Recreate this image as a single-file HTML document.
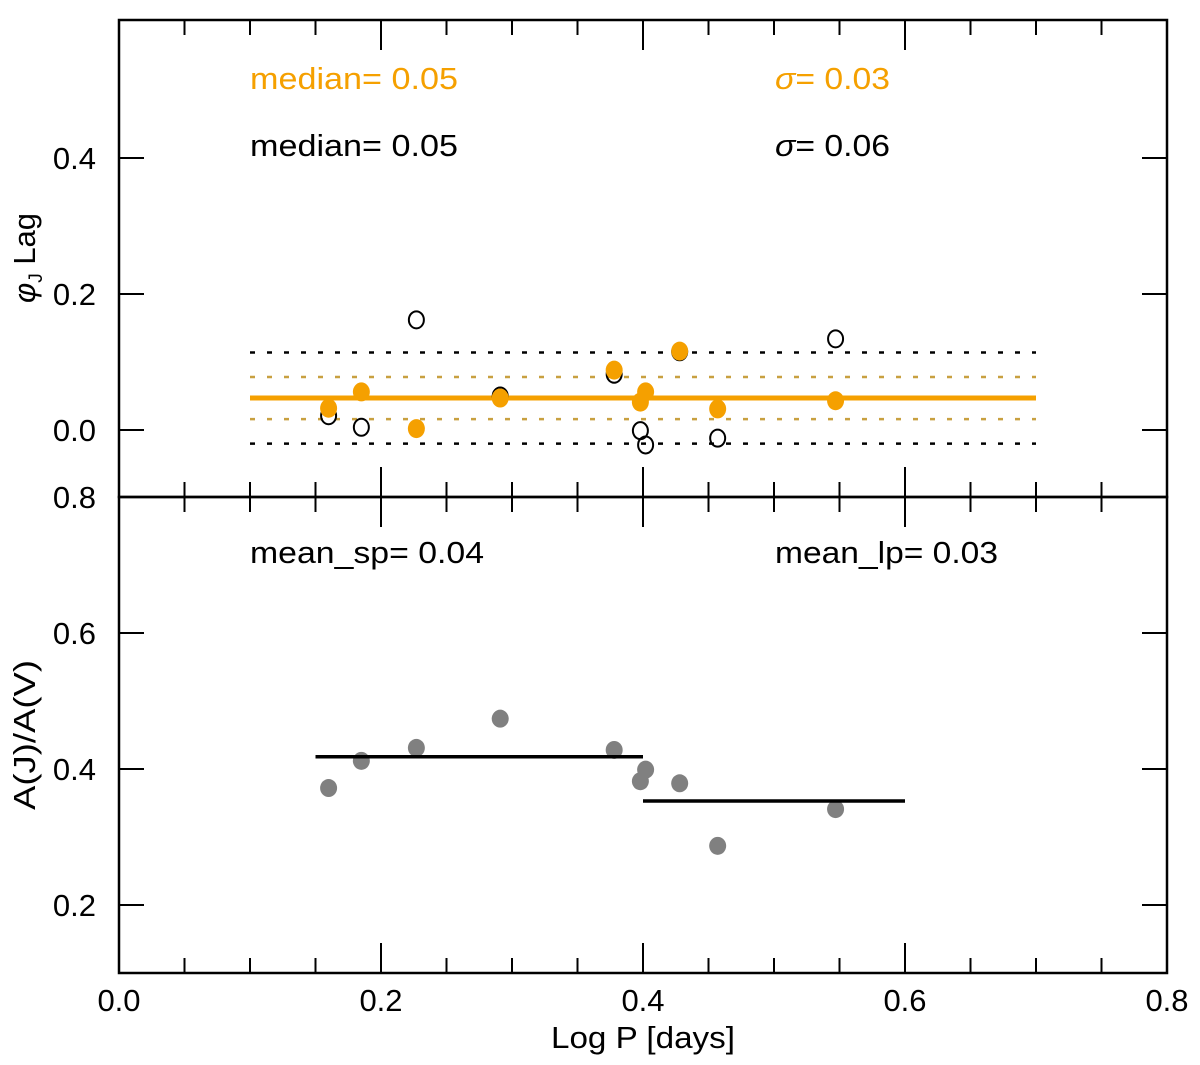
<!DOCTYPE html>
<html><head><meta charset="utf-8"><style>
body{margin:0;background:#fff;}
svg{display:block;font-family:"Liberation Sans",sans-serif;}
</style></head><body>
<svg id="c" width="1200" height="1065" viewBox="0 0 1200 1065"></svg>
<script>
const logP = [0.160,0.185,0.227,0.291,0.378,0.398,0.402,0.428,0.457,0.547];
const lagOrange = [0.032,0.056,0.002,0.047,0.088,0.041,0.056,0.116,0.031,0.043];
const lagBlack = [0.021,0.004,0.162,0.050,0.082,-0.001,-0.022,0.115,-0.012,0.134];
const ampRatio = [0.372,0.412,0.431,0.474,0.428,0.382,0.399,0.379,0.287,0.341];
const medianOrange = 0.047, sigOrange = 0.031;
const medianBlack = 0.047, sigBlack = 0.067;
const meanSp = [0.15,0.40,0.418];
const meanLp = [0.40,0.60,0.353];
const xTicks = [0.0,0.2,0.4,0.6,0.8];
const topTicks = [0.0,0.2,0.4];
const botTicks = [0.2,0.4,0.6,0.8];

const L=119,R=1167,T=20,M=497,B=973;
const sx=v=>L+(v-0)/0.8*(R-L);
const sy1=v=>430-v*680;
const sy2=v=>497+(0.8-v)*680;
const svg=document.getElementById('c');
const NS='http://www.w3.org/2000/svg';
function mk(tag,attrs,name,parent){const e=document.createElementNS(NS,tag);for(const k in attrs)e.setAttribute(k,attrs[k]);


(parent||svg).appendChild(e);return e;}
function txt(x,y,s,name,o){const e=mk('text',Object.assign({x:x,y:y,'font-size':28},o||{}),name);e.textContent=s;return e;}

mk('rect',{x:L,y:T,width:R-L,height:M-T,fill:'none',stroke:'#000','stroke-width':2.5},'top-panel-frame');
mk('rect',{x:L,y:M,width:R-L,height:B-M,fill:'none',stroke:'#000','stroke-width':2.5},'bottom-panel-frame');

for(let i=0;i<=16;i++){const v=i*0.05;const x=sx(v);const maj=i%4===0;const len=maj?30:15;
[[T,1],[M,-1],[M,1],[B,-1]].forEach(([y0,d])=>mk('line',{x1:x,x2:x,y1:y0,y2:y0+d*len,stroke:'#000','stroke-width':2},'x-tick'));}
xTicks.forEach(v=>txt(sx(v),1011,v.toFixed(1),'x-tick-label',{'text-anchor':'middle','font-size':31}));
txt(643,1048,'Log P [days]','x-axis-title',{'text-anchor':'middle','font-size':31,textLength:184,lengthAdjust:'spacingAndGlyphs'});

topTicks.forEach(v=>{const y=sy1(v);
mk('line',{x1:L,x2:L+25,y1:y,y2:y,stroke:'#000','stroke-width':2},'y-tick-top');mk('line',{x1:R,x2:R-25,y1:y,y2:y,stroke:'#000','stroke-width':2},'y-tick-top');
txt(96,y+11,v.toFixed(1),'y-tick-label-top',{'text-anchor':'end','font-size':31});});
botTicks.forEach(v=>{const y=sy2(v);if(v<0.8){mk('line',{x1:L,x2:L+25,y1:y,y2:y,stroke:'#000','stroke-width':2},'y-tick-bottom');mk('line',{x1:R,x2:R-25,y1:y,y2:y,stroke:'#000','stroke-width':2},'y-tick-bottom');}
txt(96,y+11,v.toFixed(1),'y-tick-label-bottom',{'text-anchor':'end','font-size':31});});

const t1=txt(0,0,'','y-axis-title-top',{transform:'translate(35,258) rotate(-90)','text-anchor':'middle','font-size':31});
t1.innerHTML='<tspan font-style="italic">φ</tspan><tspan font-size="19" dy="7">J</tspan><tspan dy="-7"> Lag</tspan>';
txt(0,0,'A(J)/A(V)','y-axis-title-bottom',{transform:'translate(35,735) rotate(-90)','text-anchor':'middle','font-size':31,textLength:150,lengthAdjust:'spacingAndGlyphs'});

const OR='#f5a000';
const A={'font-size':31,lengthAdjust:'spacingAndGlyphs'};
txt(250,89,'median= 0.05','median-orange-label',Object.assign({fill:OR,textLength:208},A));
txt(250,156,'median= 0.05','median-black-label',Object.assign({textLength:208},A));
const s1=txt(775,89,'','sigma-orange-label',Object.assign({fill:OR,textLength:115},A));s1.innerHTML='<tspan font-style="italic">σ</tspan>= 0.03';
const s2=txt(775,156,'','sigma-black-label',Object.assign({textLength:115},A));s2.innerHTML='<tspan font-style="italic">σ</tspan>= 0.06';
txt(250,563,'mean_sp= 0.04','mean-sp-label',Object.assign({textLength:234},A));
txt(775,563,'mean_lp= 0.03','mean-lp-label',Object.assign({textLength:223},A));

const x0=sx(0.1),x1=sx(0.7);
[medianBlack-sigBlack,medianBlack+sigBlack].forEach(v=>mk('line',{x1:x0,x2:x1,y1:sy1(v),y2:sy1(v),stroke:'#000','stroke-width':2.5,'stroke-dasharray':'5 12'},'sigma-black-line'));
[medianOrange-sigOrange,medianOrange+sigOrange].forEach(v=>mk('line',{x1:x0,x2:x1,y1:sy1(v),y2:sy1(v),stroke:'#c8a040','stroke-width':2.5,'stroke-dasharray':'5 12'},'sigma-orange-line'));
mk('line',{x1:x0,x2:x1,y1:sy1(medianOrange),y2:sy1(medianOrange),stroke:OR,'stroke-width':5},'median-orange-line');

logP.forEach((p,i)=>mk('ellipse',{cx:sx(p),cy:sy1(lagBlack[i]),rx:7.5,ry:8.5,fill:'none',stroke:'#000','stroke-width':2},'lag-black-point'));
logP.forEach((p,i)=>mk('ellipse',{cx:sx(p),cy:sy1(lagOrange[i]),rx:8.5,ry:9.5,fill:OR},'lag-orange-point'));

logP.forEach((p,i)=>mk('ellipse',{cx:sx(p),cy:sy2(ampRatio[i]),rx:8.5,ry:9,fill:'#808080'},'amp-ratio-point'));
[meanSp,meanLp].forEach((m,i)=>mk('line',{x1:sx(m[0]),x2:sx(m[1]),y1:sy2(m[2]),y2:sy2(m[2]),stroke:'#000','stroke-width':3.5},i?'mean-lp-line':'mean-sp-line'));
</script>
</body></html>
